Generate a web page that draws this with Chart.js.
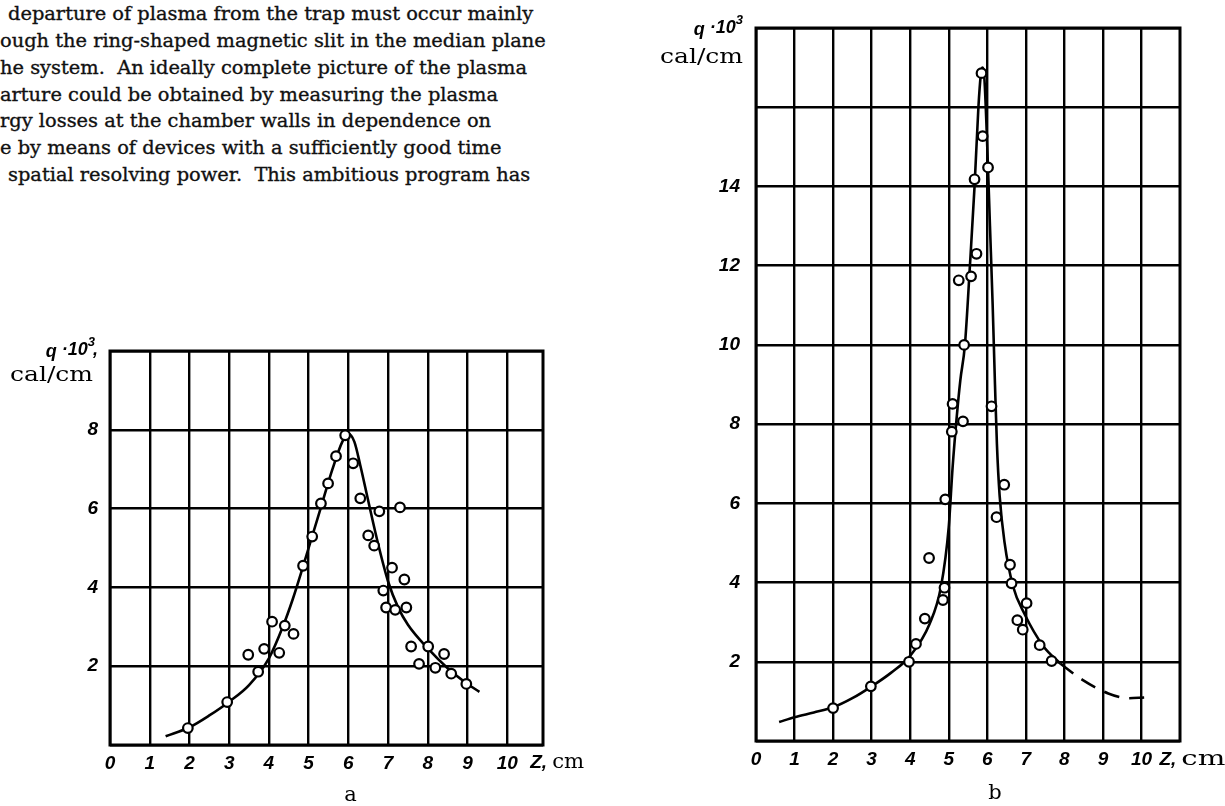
<!DOCTYPE html>
<html>
<head>
<meta charset="utf-8">
<script src="https://cdn.jsdelivr.net/npm/chart.js@4.4.1/dist/chart.umd.min.js"></script>
<style>
  html, body { margin: 0; padding: 0; background: #fff; width: 1225px; height: 806px; overflow: hidden; }
  body { position: relative; }
  .txt { position: absolute; left: 0; font-family: "DejaVu Serif", serif; font-size: 19.4px; line-height: 27px; color: #111; white-space: pre; -webkit-text-stroke: 0.35px #111; }
  canvas { position: absolute; }
</style>
</head>
<body>
<div class="txt" style="top:0px;left:8px">departure of plasma from the trap must occur mainly</div>
<div class="txt" style="top:27px">ough the ring-shaped magnetic slit in the median plane</div>
<div class="txt" style="top:54px">he system.  An ideally complete picture of the plasma</div>
<div class="txt" style="top:81px">arture could be obtained by measuring the plasma</div>
<div class="txt" style="top:107px">rgy losses at the chamber walls in dependence on</div>
<div class="txt" style="top:134px">e by means of devices with a sufficiently good time</div>
<div class="txt" style="top:161px;left:8px">spatial resolving power.  This ambitious program has</div>

<canvas id="figA" width="600" height="486" style="left:0;top:320px"></canvas>
<canvas id="figB" width="585" height="806" style="left:640px;top:0"></canvas>

<script>
// Axis ticks
const zTicks = [0, 1, 2, 3, 4, 5, 6, 7, 8, 9, 10];
const aQTicks = [2, 4, 6, 8];
const bQTicks = [2, 4, 6, 8, 10, 12, 14];

// Fig. a: measured heat load q (10^-3 cal/cm) versus z (cm)
const aPtZ = [1.96, 2.95, 3.73, 3.48, 3.88, 4.08, 4.26, 4.40, 4.62, 4.86, 5.09, 5.31, 5.49, 5.69, 5.92, 6.12, 6.30, 6.78, 7.30, 6.50, 6.65, 7.10, 7.41, 6.88, 6.95, 7.18, 7.46, 7.58, 8.01, 7.78, 8.19, 8.41, 8.59, 8.97];
const aPtQ = [0.43, 1.09, 1.86, 2.29, 2.44, 3.13, 2.34, 3.03, 2.82, 4.55, 5.29, 6.13, 6.64, 7.33, 7.86, 7.15, 6.26, 5.93, 6.03, 5.32, 5.06, 4.50, 4.20, 3.92, 3.49, 3.43, 3.49, 2.50, 2.50, 2.06, 1.96, 2.31, 1.81, 1.55];
// Fig. a: smoothed curve
const aFitZ = [1.4, 2, 2.5, 3, 3.5, 4, 4.35, 4.6, 4.85, 5, 5.3, 5.6, 5.85, 6.0, 6.15, 6.3, 6.5, 6.75, 7.0, 7.25, 7.5, 8.0, 8.5, 9.0, 9.3];
const aFitQ = [0.22, 0.45, 0.75, 1.1, 1.52, 2.2, 3.0, 3.7, 4.5, 5.0, 6.0, 7.0, 7.7, 7.9, 7.7, 7.1, 6.2, 5.1, 4.15, 3.5, 3.05, 2.45, 1.95, 1.55, 1.35];

// Fig. b: measured heat load
const bPtZ = [2.0, 2.98, 3.97, 4.15, 4.38, 4.49, 4.85, 4.89, 4.91, 5.08, 5.10, 5.37, 5.40, 5.26, 5.58, 5.72, 5.67, 5.85, 5.88, 6.02, 6.11, 6.24, 6.44, 6.59, 6.63, 6.78, 6.92, 7.02, 7.36, 7.67];
const bPtQ = [0.83, 1.38, 2.0, 2.45, 3.09, 4.62, 3.56, 3.87, 6.1, 7.81, 8.51, 8.07, 10.0, 11.63, 11.73, 12.3, 14.18, 16.86, 15.27, 14.48, 8.45, 5.65, 6.47, 4.45, 3.98, 3.05, 2.81, 3.48, 2.42, 2.02];
// Fig. b: smoothed curve (solid) and its extrapolated tail (dashed)
const bFitZ = [0.6, 1, 1.5, 2, 2.5, 3, 3.5, 4, 4.5, 4.8, 5.0, 5.1, 5.2, 5.3, 5.42, 5.55, 5.67, 5.77, 5.83, 5.87, 5.92, 6.0, 6.07, 6.14, 6.2, 6.25, 6.32, 6.45, 6.67, 6.97, 7.45, 7.9];
const bFitQ = [0.48, 0.6, 0.72, 0.85, 1.08, 1.38, 1.72, 2.15, 2.95, 3.9, 5.4, 6.9, 8.1, 9.1, 10, 12, 14, 16, 16.8, 17.0, 16.8, 15, 13, 11, 9, 7.5, 6.2, 5.0, 3.9, 3.2, 2.4, 1.95];
const bTailZ = [7.9, 8.46, 9.14, 9.65, 10.07];
const bTailQ = [1.95, 1.55, 1.2, 1.08, 1.1];

const pairs = (xs, ys) => xs.map((x, i) => ({ x, y: ys[i] }));

const tickFont = { family: "'Liberation Sans Narrow', 'Liberation Sans', sans-serif", size: 19, weight: 'bold', style: 'italic' };
const boldItal = (px) => `italic bold ${px}px 'Liberation Sans Narrow', 'Liberation Sans', sans-serif`;
const serif = (px) => `${px}px 'DejaVu Serif', serif`;

// Draw text so that it spans exactly `w` pixels, right-aligned at x (or left-aligned)
function fitText(ctx, s, x, y, w, font, alignRight) {
  ctx.save();
  ctx.font = font;
  const m = ctx.measureText(s).width;
  const k = w / m;
  ctx.translate(alignRight ? x - w : x, y);
  ctx.scale(k, 1);
  ctx.textAlign = 'left';
  ctx.textBaseline = 'alphabetic';
  ctx.fillText(s, 0, 0);
  ctx.restore();
}

// Outline of the plotting area
const frame = {
  id: 'frame',
  afterDraw(chart) {
    const { ctx, chartArea: a } = chart;
    ctx.save();
    ctx.strokeStyle = '#000';
    ctx.lineWidth = 3;
    ctx.strokeRect(a.left, a.top, a.right - a.left, a.bottom - a.top);
    ctx.restore();
  }
};

// Axis titles and panel letter
const captions = {
  id: 'captions',
  afterDraw(chart, args, o) {
    const { ctx, chartArea: a, scales } = chart;
    ctx.save();
    ctx.fillStyle = '#000';
    // "q · 10³" label, right-aligned against the value axis
    const qRight = a.left - o.qGap;
    const qBase = a.top + o.qDy;
    const tail = o.comma ? ',' : '';
    ctx.font = boldItal(13);
    const w3 = ctx.measureText('3').width;
    ctx.font = boldItal(18);
    const wTen = ctx.measureText(' ·10').width;
    const wq = ctx.measureText('q').width;
    const wc = ctx.measureText(tail).width;
    let x = qRight - (wq + wTen + w3 + wc);
    ctx.fillText('q', x, qBase + 2); x += wq;
    ctx.fillText(' ·10', x, qBase); x += wTen;
    ctx.font = boldItal(13);
    ctx.fillText('3', x, qBase - 9); x += w3;
    ctx.font = boldItal(18);
    if (tail) ctx.fillText(tail, x - 2, qBase);
    // units
    fitText(ctx, 'cal/cm', a.left - o.calGap, a.top + o.calDy, o.calW, serif(20), true);
    // "Z, cm" after the last tick label
    const zx = scales.x.getPixelForValue(10) + o.zGap;
    const zy = a.bottom + o.zDy;
    ctx.font = boldItal(19);
    ctx.fillText('Z,', zx, zy);
    const wz = ctx.measureText('Z,').width;
    fitText(ctx, 'cm', zx + wz + o.cmGap, zy, o.cmW, serif(20), false);
    // panel letter
    ctx.font = serif(21);
    ctx.textAlign = 'center';
    ctx.fillText(o.letter, (a.left + a.right) / 2 + o.letterDx, a.bottom + o.letterDy);
    ctx.restore();
  }
};

function makeChart(id, cfg) {
  const datasets = [
    {
      data: pairs(cfg.ptZ, cfg.ptQ), showLine: false,
      pointRadius: 4.8, pointBorderWidth: 2.2, pointBorderColor: '#000', pointBackgroundColor: '#fff'
    },
    {
      data: pairs(cfg.fitZ, cfg.fitQ), showLine: true, pointRadius: 0,
      borderColor: '#000', borderWidth: 2.6, cubicInterpolationMode: 'monotone', fill: false
    }
  ];
  if (cfg.tailZ) {
    datasets.push({
      data: pairs(cfg.tailZ, cfg.tailQ), showLine: true, pointRadius: 0,
      borderColor: '#000', borderWidth: 2.6, borderDash: [16, 10], cubicInterpolationMode: 'monotone', fill: false
    });
  }
  return new Chart(document.getElementById(id), {
    type: 'scatter',
    data: { datasets },
    plugins: [frame, captions],
    options: {
      responsive: false,
      animation: false,
      events: [],
      layout: { padding: cfg.padding },
      plugins: { legend: { display: false }, tooltip: { enabled: false }, captions: cfg.captions },
      scales: {
        x: {
          type: 'linear', min: 0, max: cfg.zMax,
          afterBuildTicks: (s) => { s.ticks = zTicks.map(v => ({ value: v })); },
          afterFit: (s) => { s.height = 30; },
          grid: { color: '#000', lineWidth: 2.4, drawTicks: false },
          border: { display: false },
          ticks: { color: '#000', font: tickFont, padding: cfg.xPad, maxRotation: 0, autoSkip: false, callback: (v) => String(v) }
        },
        y: {
          type: 'linear', min: 0, max: cfg.qMax,
          afterBuildTicks: (s) => { s.ticks = cfg.qGrid.map(v => ({ value: v })); },
          afterFit: (s) => { s.width = cfg.yWidth; },
          grid: { color: '#000', lineWidth: 2.4, drawTicks: false },
          border: { display: false },
          ticks: { color: '#000', font: tickFont, padding: cfg.yPad, autoSkip: false, callback: (v) => cfg.qTicks.includes(v) ? String(v) : '' }
        }
      }
    }
  });
}

makeChart('figA', {
  ptZ: aPtZ, ptQ: aPtQ, fitZ: aFitZ, fitQ: aFitQ,
  zMax: 10.9, qMax: 10, qGrid: [0, 2, 4, 6, 8, 10], qTicks: aQTicks,
  yWidth: 110, yPad: 12, xPad: 7,
  padding: { left: 0, top: 31, right: 57, bottom: 31 },
  captions: { qGap: 10, qDy: 4, comma: true, calGap: 17, calDy: 30, calW: 83, zGap: 23, zDy: 23, cmGap: 5, cmW: 32, letter: 'a', letterDx: 24, letterDy: 56 }
});

makeChart('figB', {
  ptZ: bPtZ, ptQ: bPtQ, fitZ: bFitZ, fitQ: bFitQ, tailZ: bTailZ, tailQ: bTailQ,
  zMax: 11, qMax: 18, qGrid: [0, 2, 4, 6, 8, 10, 12, 14, 16, 18], qTicks: bQTicks,
  yWidth: 116, yPad: 16, xPad: 7,
  padding: { left: 0, top: 28, right: 45, bottom: 35 },
  captions: { qGap: 13, qDy: 5, comma: false, calGap: 13, calDy: 35, calW: 83, zGap: 18, zDy: 24, cmGap: 5, cmW: 44, letter: 'b', letterDx: 27, letterDy: 58 }
});
</script>
</body>
</html>
